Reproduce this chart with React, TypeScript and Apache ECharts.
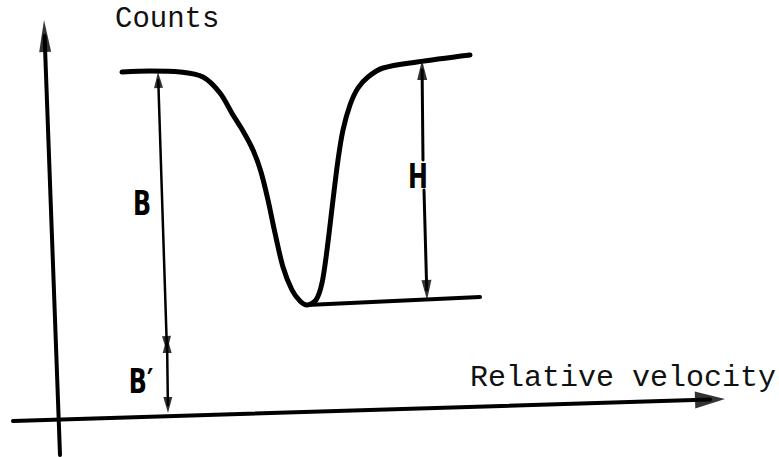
import React, { useEffect, useRef } from "react";
import * as echarts from "echarts";

// Schematic Mössbauer-type absorption dip (units: drawing units, counts upward)
const dipVelocity = [122, 150, 180, 203, 220, 233, 243, 253, 261, 268, 275, 283, 292, 300, 307, 316, 322, 327, 333, 338, 343, 350, 358, 368, 383, 417, 470];
const dipCounts = [385, 386, 385, 380, 364, 342, 326, 307, 285, 257, 224, 190, 167, 156, 152, 157, 174, 207, 257, 297, 327, 352, 369, 380, 389, 395, 402];
const baseVelocity = [307, 480];
const baseCounts = [152, 160];

// Axis and dimension-arrow segments [start, end] (end = arrow tip)
const countsAxisSeg = [[60, 2], [44, 437]];
const velocityAxisSeg = [[13, 36], [725, 58]];
const bSeg = [[167, 105], [158, 385]];
const bPrimeSeg = [[167, 120], [168, 44]];
const hUpperSeg = [[423, 297], [422, 397]];
const hLowerSeg = [[424, 267], [427, 157]];

const axisTitles = ["Counts", "Relative velocity"];
const dimLabels = ["B", "B\u2032", "H"];

const W = 779;
const H = 457;
const ARROW = "path://M5,0 L10,20 L0,20 Z";

type Pt = number[];

function unit(a: Pt, b: Pt) {
  const dx = b[0] - a[0];
  const dy = b[1] - a[1];
  const len = Math.hypot(dx, dy) || 1;
  return [dx / len, dy / len];
}

function head(tip: Pt, from: Pt, w: number, l: number) {
  const d = unit(from, tip);
  const ang = (Math.atan2(d[1], d[0]) * 180) / Math.PI - 90;
  return {
    value: [tip[0] - (d[0] * l) / 2, tip[1] - (d[1] * l) / 2],
    symbol: ARROW,
    symbolSize: [w, l],
    symbolRotate: ang,
  };
}

function shaft(seg: Pt[], startHead: number, endHead: number) {
  const d = unit(seg[0], seg[1]);
  const a = [seg[0][0] + d[0] * startHead, seg[0][1] + d[1] * startHead];
  const b = [seg[1][0] - d[0] * endHead, seg[1][1] - d[1] * endHead];
  return [a, b];
}

export default function App() {
  const ref = useRef<HTMLDivElement>(null);
  useEffect(() => {
    if (!ref.current) return;
    const chart = echarts.init(ref.current, undefined, { renderer: "svg" });

    const lineSeries = (data: Pt[], width: number, z = 3) => ({
      type: "line",
      data,
      symbol: "none",
      silent: true,
      z,
      lineStyle: { color: "#000", width, cap: "round" },
    });

    const heads = [
      head(countsAxisSeg[1], countsAxisSeg[0], 12, 32),
      head(velocityAxisSeg[1], velocityAxisSeg[0], 17, 30),
      head(bSeg[1], bSeg[0], 9, 16),
      head(bSeg[0], bSeg[1], 9, 16),
      head(bPrimeSeg[0], bPrimeSeg[1], 9, 16),
      head(bPrimeSeg[1], bPrimeSeg[0], 9, 16),
      head(hUpperSeg[1], hUpperSeg[0], 10, 20),
      head(hLowerSeg[1], hLowerSeg[0], 10, 20),
    ];

    const option = {
      animation: false,
      backgroundColor: "#fff",
      grid: { left: 0, right: 0, top: 0, bottom: 0 },
      xAxis: { type: "value", min: 0, max: W, show: false },
      yAxis: { type: "value", min: 0, max: H, show: false },
      series: [
        {
          ...lineSeries(dipVelocity.map((v, i) => [v, dipCounts[i]]), 5),
          smooth: 0.3,
        },
        lineSeries(baseVelocity.map((v, i) => [v, baseCounts[i]]), 4),
        lineSeries(shaft(countsAxisSeg, 0, 16), 4),
        lineSeries(shaft(velocityAxisSeg, 0, 15), 4),
        lineSeries(shaft(bSeg, 8, 8), 2.5),
        lineSeries(shaft(bPrimeSeg, 8, 8), 2.5),
        lineSeries(shaft(hUpperSeg, 0, 10), 3),
        lineSeries(shaft(hLowerSeg, 0, 10), 3),
        {
          type: "scatter",
          silent: true,
          z: 5,
          itemStyle: { color: "#000" },
          data: heads,
        },
      ],
      graphic: [
        {
          type: "text",
          x: 115,
          y: 19,
          style: {
            text: axisTitles[0],
            fontFamily: "Liberation Mono",
            fontSize: 29,
            fill: "#111",
            textAlign: "left",
            textVerticalAlign: "middle",
          },
        },
        {
          type: "text",
          x: 470,
          y: 378,
          style: {
            text: axisTitles[1],
            fontFamily: "Liberation Mono",
            fontSize: 30,
            fill: "#111",
            textAlign: "left",
            textVerticalAlign: "middle",
          },
        },
        ...[
          [142, 203],
          [141, 381],
          [418, 176],
        ].map((p, i) => ({
          type: "text",
          x: p[0],
          y: p[1],
          scaleX: 0.7,
          style: {
            text: dimLabels[i],
            fontFamily: "DejaVu Sans",
            fontWeight: "bold",
            fontSize: 34,
            fill: "#000",
            textAlign: "center",
            textVerticalAlign: "middle",
          },
        })),
      ],
    };
    chart.setOption(option as any);
    return () => chart.dispose();
  }, []);
  return (
    <div
      ref={ref}
      style={{ position: "fixed", left: 0, top: 0, width: W, height: H, background: "#fff" }}
    />
  );
}
